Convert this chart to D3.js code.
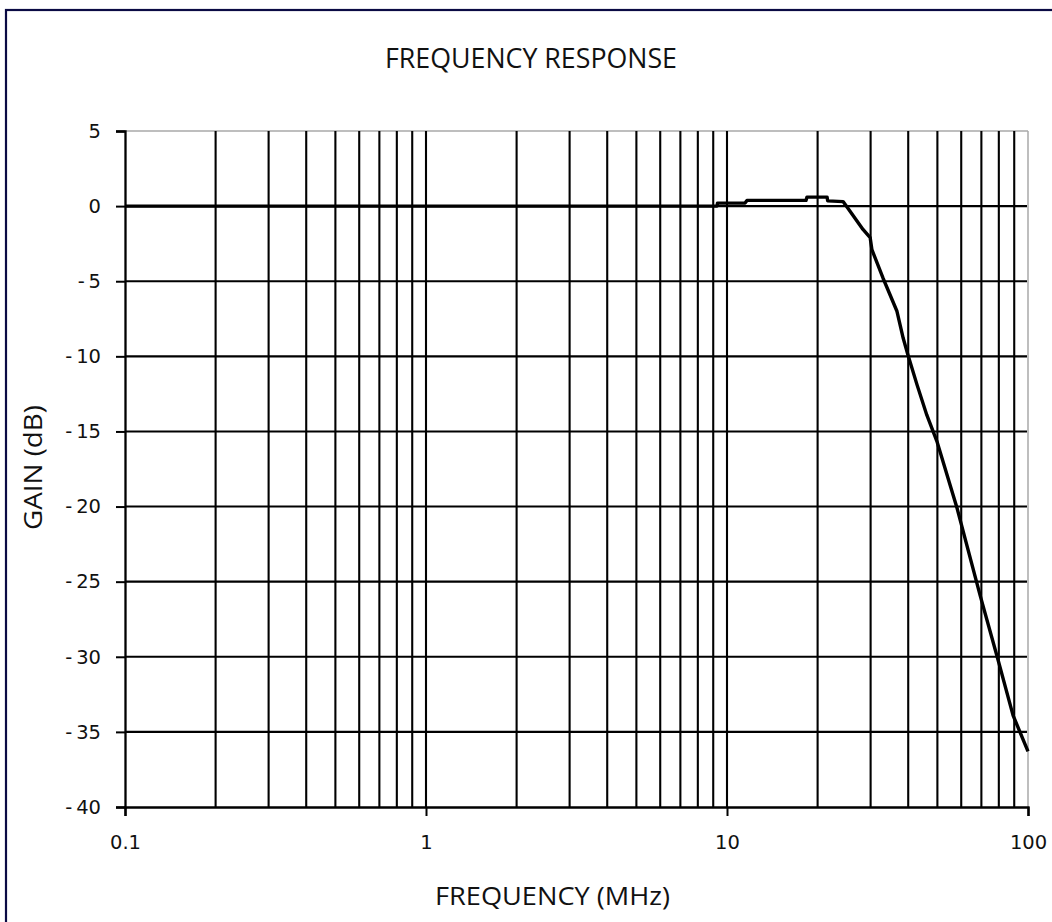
<!DOCTYPE html>
<html>
<head>
<meta charset="utf-8">
<script src="https://cdn.jsdelivr.net/npm/d3@7/dist/d3.min.js"></script>
<style>
  html, body { margin: 0; padding: 0; background: #fff; }
  svg { display: block; }
</style>
</head>
<body>
<svg id="chart" width="1052" height="922"></svg>
<script>
// ---- data ----
const freqMHz = [0.1, 1, 5, 9.27, 9.3, 11.48, 11.65, 18.3, 18.44, 21.5, 21.6, 24.3, 25.6, 28.3, 29.9, 30.3, 33.0, 36.7, 38.5, 39.9, 42.8, 46.1, 49.9, 58.1, 69.3, 79.5, 89.2, 100];
const gainDB  = [0, 0, 0, 0, 0.2, 0.2, 0.38, 0.38, 0.6, 0.6, 0.35, 0.3, -0.33, -1.55, -2.1, -2.9, -4.8, -7.0, -8.8, -9.9, -11.9, -13.9, -15.7, -20.1, -25.9, -30.2, -33.9, -36.3];
const yTicks = [5, 0, -5, -10, -15, -20, -25, -30, -35, -40];
const xMajorTicks = [0.1, 1, 10, 100];
const xMinorTicks = [0.2,0.3,0.4,0.5,0.6,0.7,0.8,0.9, 2,3,4,5,6,7,8,9, 20,30,40,50,60,70,80,90];
const titleText = "FREQUENCY RESPONSE";
const xLabel = "FREQUENCY (MHz)";
const yLabel = "GAIN (dB)";

// ---- layout ----
const svg = d3.select("#chart");
const L = 125, R = 1028, T = 131, B = 807;
const x = d3.scaleLog().domain([0.1, 100]).range([L, R]);
const y = d3.scaleLinear().domain([-40, 5]).range([B, T]);

// outer frame (extends past the canvas on right/bottom)
svg.append("rect").attr("x", 6).attr("y", 10).attr("width", 1200).attr("height", 1200)
  .attr("fill", "none").attr("stroke", "#0b0b44").attr("stroke-width", 2.2);

// title
svg.append("text").attr("x", 385).attr("y", 68)
  .attr("textLength", 292).attr("lengthAdjust", "spacingAndGlyphs")
  .attr("font-family", "Open Sans, sans-serif").attr("font-size", 27).attr("font-weight", 500)
  .attr("fill", "#111").text(titleText);

// plot area gray border (top/right)
svg.append("line").attr("x1", L).attr("x2", R).attr("y1", y(5)).attr("y2", y(5))
  .attr("stroke", "#a8a8a8").attr("stroke-width", 1.5);
svg.append("line").attr("x1", R).attr("x2", R).attr("y1", T).attr("y2", B)
  .attr("stroke", "#a8a8a8").attr("stroke-width", 1.5);

// horizontal gridlines
const gridColor = "#000";
svg.append("g").selectAll("line").data(yTicks.filter(d => d !== 5 && d !== -40)).join("line")
  .attr("x1", L).attr("x2", R - 1).attr("y1", d => y(d)).attr("y2", d => y(d))
  .attr("stroke", gridColor).attr("stroke-width", 2.1);

// vertical gridlines
svg.append("g").selectAll("line").data(xMinorTicks.concat([1, 10])).join("line")
  .attr("x1", d => x(d)).attr("x2", d => x(d)).attr("y1", T).attr("y2", B)
  .attr("stroke", gridColor).attr("stroke-width", 2.1);

// y axis via d3
const yAxis = d3.axisLeft(y).tickValues(yTicks).tickSize(9).tickPadding(15)
  .tickFormat(d => d < 0 ? "-\u2009" + Math.abs(d) : String(d));
const gy = svg.append("g").attr("transform", `translate(${L},0)`).call(yAxis);
gy.select(".domain").attr("stroke", "#000").attr("stroke-width", 2.3);
gy.selectAll(".tick line").attr("stroke", "#000").attr("stroke-width", 2);
gy.selectAll(".tick text").attr("font-family", "DejaVu Sans, sans-serif").attr("font-size", 19.5)
  .attr("fill", "#111");

// x axis via d3
const xAxis = d3.axisBottom(x).tickValues(xMajorTicks).tickSize(9).tickPadding(19)
  .tickFormat(d => String(d));
const gx = svg.append("g").attr("transform", `translate(0,${B})`).call(xAxis);
gx.select(".domain").attr("stroke", "#000").attr("stroke-width", 2.3);
gx.selectAll(".tick line").attr("stroke", "#000").attr("stroke-width", 2);
gx.selectAll(".tick text").attr("font-family", "DejaVu Sans, sans-serif").attr("font-size", 19.5)
  .attr("fill", "#111");

// axis titles
svg.append("text").attr("x", 435).attr("y", 905)
  .attr("textLength", 235).attr("lengthAdjust", "spacingAndGlyphs")
  .attr("font-family", "Open Sans, sans-serif").attr("font-size", 26).attr("font-weight", 500)
  .attr("fill", "#111").text(xLabel);
svg.append("text").attr("transform", "translate(42,530) rotate(-90)")
  .attr("textLength", 125).attr("lengthAdjust", "spacingAndGlyphs")
  .attr("font-family", "Open Sans, sans-serif").attr("font-size", 26).attr("font-weight", 500)
  .attr("fill", "#111").text(yLabel);

// curve
const data = freqMHz.map((f, i) => ({ f, g: gainDB[i] }));
const line = d3.line().x(d => x(d.f)).y(d => y(d.g)).curve(d3.curveLinear);
svg.append("path").datum(data).attr("d", line)
  .attr("fill", "none").attr("stroke", "#000").attr("stroke-width", 3.4)
  .attr("stroke-linejoin", "round");
</script>
</body>
</html>
